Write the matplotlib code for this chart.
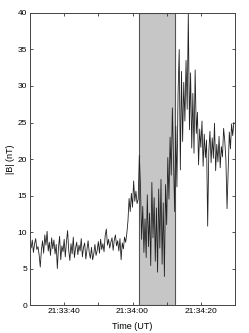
import matplotlib
matplotlib.use("Agg")
import matplotlib.pyplot as plt
import numpy as np

plt.rcParams['font.family'] = ['Liberation Sans', 'DejaVu Sans']

# seconds after 21:33:30, sampled every 1/3 s
b_total = [
    8.5, 7.8, 8.9, 7.2, 8.4, 9.1, 7.6, 8.0, 6.9,
    5.2, 7.5, 8.8,
    7.1, 9.6, 8.2, 10.1, 7.4, 8.6,
    6.8, 9.2, 7.7, 8.9, 7.0, 8.3,
    5.0, 7.9, 9.4, 6.2, 8.1, 7.3,
    9.0, 6.6, 8.7, 10.2, 7.5, 6.1,
    8.4, 7.0, 9.3, 6.5, 7.8, 8.6,
    6.9, 8.2, 7.4, 9.1, 6.6, 7.9,
    8.5, 6.3, 7.6, 8.8, 7.2, 6.4,
    7.9, 6.2, 7.0, 8.3, 6.8, 7.5,
    8.7, 7.1, 9.0, 7.6, 8.4, 7.3,
    9.5, 10.4, 8.2, 9.0, 7.8, 8.6,
    9.2, 7.5, 8.9, 9.6, 8.1, 8.8,
    7.4, 9.1, 6.2, 8.5, 7.7, 9.3,
    8.6, 9.8, 11.5, 14.6, 12.8, 15.3,
    13.4, 17.0, 14.2, 15.6, 13.9, 14.5,
    20.5, 16.2, 9.0, 13.5, 7.2, 11.8,
    6.5, 15.1, 8.0, 12.6, 5.4, 16.8,
    9.2, 14.7, 6.0, 13.3, 4.5, 15.9,
    7.8, 17.2, 5.6, 14.0, 3.9, 16.5,
    11.0, 20.2, 14.5, 23.0, 17.8, 27.0,
    19.6, 12.8, 24.5, 16.2, 29.0, 35.0,
    18.5, 32.0, 22.4, 30.5, 25.2, 33.5,
    26.8, 40.0, 24.0, 31.8, 21.5, 29.0,
    20.8, 32.2, 23.5, 26.4, 19.2, 24.1,
    21.6, 25.2, 19.0, 23.4, 20.2, 22.6,
    10.8, 21.0, 23.8, 19.5, 22.9, 20.1,
    24.9, 18.4, 22.0, 19.6, 23.1, 18.8,
    21.7, 20.3, 24.2, 22.5, 19.9, 13.2,
    18.6, 23.7, 21.4, 24.8, 23.2, 25.0,
]
t_sec = np.arange(len(b_total)) / 3.0

shade_start = 32.0
shade_end = 42.5

tick_pos = [10, 20, 30, 40, 50]
tick_labels = ['21:33:40', '', '21:34:00', '', '21:34:20']

fig = plt.figure(figsize=(2.49, 3.33), dpi=100)
ax = fig.add_axes([0.1205, 0.084, 0.8233, 0.877])

ax.axvspan(shade_start, shade_end, facecolor='#c6c6c6', edgecolor='#555555', linewidth=0.8, zorder=1)
ax.plot(t_sec, b_total, color='#222222', linewidth=0.6, zorder=2)

ax.set_xlim(0, 60)
ax.set_ylim(0, 40)
ax.set_yticks(range(0, 41, 5))
ax.set_xticks(tick_pos)
ax.set_xticklabels(tick_labels)
ax.tick_params(direction='in', length=2.5, width=0.6, labelsize=6,
               top=True, right=True, colors='#333333', labelcolor='black', pad=2)
for s in ax.spines.values():
    s.set_linewidth(0.7)
    s.set_color('#444444')

ax.set_ylabel('|B| (nT)', fontsize=6.5, labelpad=2)
ax.set_xlabel('Time (UT)', fontsize=6.5, labelpad=5)

fig.savefig('out.png', dpi=100)
plt.close()
